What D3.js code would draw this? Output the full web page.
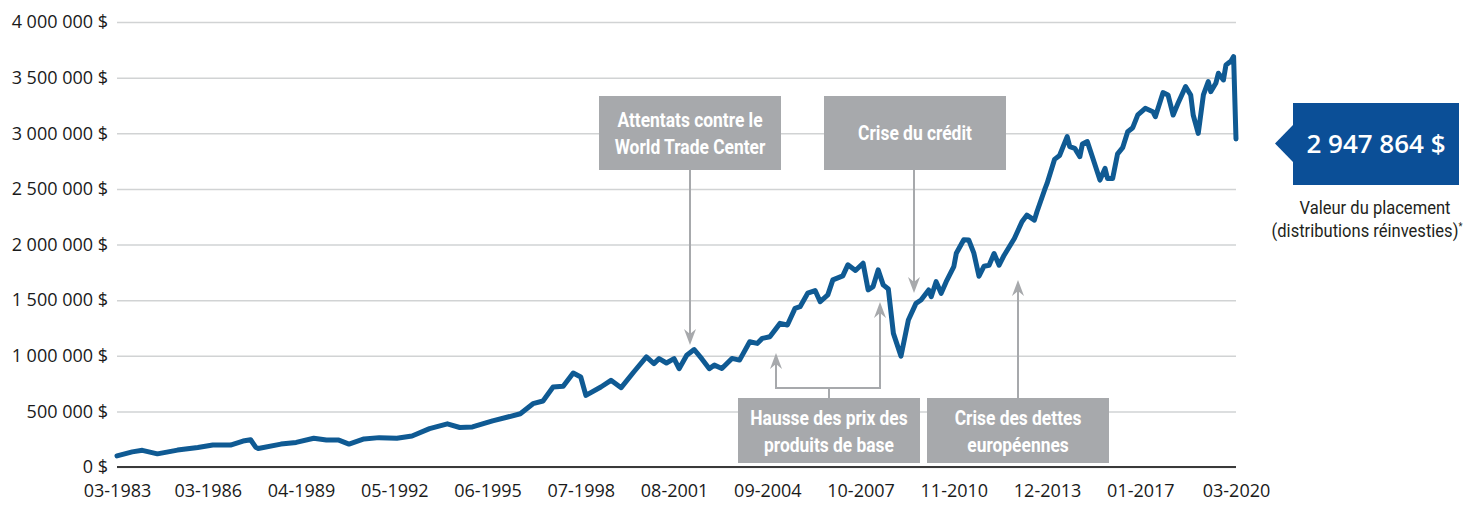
<!DOCTYPE html>
<html>
<head>
<meta charset="utf-8">
<script src="https://cdn.jsdelivr.net/npm/d3@7"></script>
<style>
  body { margin: 0; background: #fff; }
  svg { display: block; font-family: "Open Sans", sans-serif; }
  .cond { font-family: Roboto, sans-serif; }
</style>
</head>
<body>
<div id="chart"></div>
<script>
// Monthly points (investment value, $)
const dates = [
  "1983-03","1983-09","1984-01","1984-07","1985-03","1985-11","1986-05","1986-12","1987-05","1987-08",
  "1987-10","1987-11","1988-08","1989-02","1989-09","1990-02","1990-07","1990-11","1991-05","1991-11",
  "1992-06","1992-12","1993-07","1994-02","1994-07","1994-12","1995-08","1996-02","1996-07","1996-12",
  "1997-04","1997-08","1997-12","1998-04","1998-07","1998-09","1999-03","1999-07","1999-11","2000-04",
  "2000-09","2000-12","2001-02","2001-05","2001-08","2001-10","2002-01","2002-04","2002-07","2002-10",
  "2002-12","2003-03","2003-07","2003-10","2004-02","2004-05","2004-07","2004-10","2005-02","2005-05",
  "2005-08","2005-10","2006-01","2006-04","2006-06","2006-09","2006-11","2007-03","2007-05","2007-08",
  "2007-11","2008-01","2008-03","2008-05","2008-07","2008-09","2008-11","2009-02","2009-05","2009-08",
  "2009-10","2010-01","2010-02","2010-04","2010-06","2010-08","2010-11","2010-12","2011-03","2011-05",
  "2011-07","2011-09","2011-11","2012-01","2012-03","2012-05","2012-07","2012-11","2013-02","2013-04",
  "2013-07","2013-08","2013-11","2013-12","2014-03","2014-05","2014-08","2014-09","2014-11","2015-01",
  "2015-02","2015-04","2015-06","2015-09","2015-11","2015-12","2016-02","2016-04","2016-06","2016-08",
  "2016-10","2016-12","2017-03","2017-06","2017-07","2017-10","2017-12","2018-02","2018-04","2018-07",
  "2018-09","2018-10","2018-12","2019-02","2019-04","2019-05","2019-07","2019-08","2019-10","2019-11",
  "2020-01","2020-02","2020-03"
];
const values = [
  100000,136000,150000,118000,152000,176000,197000,197000,233000,245000,
  178000,167000,206000,221000,258000,242000,242000,206000,252000,264000,
  258000,279000,345000,388000,355000,360000,415000,449000,479000,569000,
  593000,719000,725000,845000,809000,644000,719000,779000,713000,854000,
  989000,929000,974000,935000,974000,884000,1004000,1056000,974000,884000,
  916000,886000,976000,961000,1126000,1111000,1156000,1171000,1291000,1276000,
  1426000,1441000,1562000,1586000,1486000,1547000,1682000,1718000,1817000,1766000,
  1832000,1592000,1622000,1772000,1637000,1600000,1201000,997000,1321000,1471000,
  1501000,1591000,1531000,1666000,1561000,1666000,1801000,1921000,2043000,2040000,
  1922000,1715000,1805000,1814000,1919000,1814000,1904000,2054000,2204000,2264000,
  2219000,2294000,2490000,2549000,2765000,2800000,2970000,2879000,2864000,2789000,
  2903000,2925000,2789000,2579000,2684000,2594000,2594000,2815000,2870000,3014000,
  3050000,3165000,3224000,3194000,3149000,3365000,3344000,3164000,3269000,3419000,
  3344000,3164000,2999000,3344000,3464000,3374000,3449000,3539000,3479000,3614000,
  3650000,3689000,2947864
];
const xTickLabels = ["03-1983","03-1986","04-1989","05-1992","06-1995","07-1998","08-2001",
  "09-2004","10-2007","11-2010","12-2013","01-2017","03-2020"];
const yTicks = [0, 500000, 1000000, 1500000, 2000000, 2500000, 3000000, 3500000, 4000000];
const finalValue = 2947864;
const valueCaption = ["Valeur du placement", "(distributions réinvesties)"];

const W = 1471, H = 508;
const plotLeft = 117, plotRight = 1236, plotTop = 22, plotBottom = 467;

const parseMonth = d3.timeParse("%Y-%m");
const parseTick = d3.timeParse("%m-%Y");
const series = dates.map((d, i) => ({ date: parseMonth(d), value: values[i] }));

const fr = d3.formatLocale({ decimal: ",", thousands: "\u00a0", grouping: [3], currency: ["", "\u00a0$"] });
const money = fr.format("$,.0f");

const svg = d3.select("#chart").append("svg").attr("width", W).attr("height", H);

const x = d3.scaleTime().domain([parseMonth("1983-03"), parseMonth("2020-03")]).range([plotLeft, plotRight]);
const y = d3.scaleLinear().domain([0, 4000000]).range([plotBottom, plotTop]);

// gridlines + y labels
const yAxis = svg.append("g")
  .attr("transform", `translate(${plotLeft},0)`)
  .call(d3.axisLeft(y).tickValues(yTicks).tickFormat(money).tickSize(-(plotRight - plotLeft)).tickPadding(9));
yAxis.select(".domain").remove();
yAxis.selectAll(".tick line").attr("stroke", "#d1d3d4").attr("stroke-width", 1.5);
yAxis.selectAll(".tick text").attr("fill", "#1a1a1a").style("font-size", "18px")
  .style("font-family", '"Open Sans", sans-serif');

// x labels
const xAxis = svg.append("g")
  .attr("transform", `translate(0,${plotBottom})`)
  .call(d3.axisBottom(x).tickValues(xTickLabels.map(parseTick)).tickFormat(d3.timeFormat("%m-%Y")).tickSize(0).tickPadding(17));
xAxis.select(".domain").remove();
xAxis.selectAll(".tick text").attr("fill", "#1a1a1a").style("font-size", "18px")
  .style("font-family", '"Open Sans", sans-serif');

// baseline
svg.append("line").attr("x1", plotLeft).attr("x2", plotRight).attr("y1", y(0)).attr("y2", y(0))
  .attr("stroke", "#3a3a3a").attr("stroke-width", 2);

// annotations (layout in px)
const grey = "#a7a9ac";
const ann = svg.append("g");
function arrowHead(xp, tip, dir) {
  // dir = 1 points down, -1 points up
  const l = 16 * dir, n = 11 * dir;
  return `M${xp},${tip} L${xp - 6},${tip - l} L${xp},${tip - n} L${xp + 6},${tip - l} Z`;
}
function vArrow(xp, from, tip) {
  const dir = tip > from ? 1 : -1;
  ann.append("line").attr("x1", xp).attr("x2", xp).attr("y1", from).attr("y2", tip - 11 * dir)
    .attr("stroke", grey).attr("stroke-width", 2);
  ann.append("path").attr("d", arrowHead(xp, tip, dir)).attr("fill", grey);
}
vArrow(690, 170, 345);
vArrow(914, 170, 293);
vArrow(1018, 398, 280);
ann.append("path").attr("d", "M776,388 L880,388 M829,388 L829,398").attr("stroke", grey)
  .attr("stroke-width", 2).attr("fill", "none");
vArrow(776, 389, 353);
vArrow(880, 389, 302);

// narrow text: Roboto squeezed horizontally to mimic a condensed face
function condText(g, cx, cy, str, size, weight, fill, sx) {
  return g.append("text").attr("class", "cond")
    .attr("transform", `translate(${cx},${cy}) scale(${sx},1)`)
    .attr("text-anchor", "middle").attr("fill", fill).attr("font-weight", weight)
    .style("font-size", size + "px").text(str);
}

const boxes = [
  { x0: 599, y0: 96, w: 182, h: 74, lines: ["Attentats contre le", "World Trade Center"], base: 127 },
  { x0: 824, y0: 96, w: 182, h: 74, lines: ["Crise du crédit"], base: 140 },
  { x0: 738, y0: 398, w: 182, h: 65, lines: ["Hausse des prix des", "produits de base"], base: 425 },
  { x0: 927, y0: 398, w: 182, h: 65, lines: ["Crise des dettes", "européennes"], base: 425 }
];
boxes.forEach(b => {
  ann.append("rect").attr("x", b.x0).attr("y", b.y0).attr("width", b.w).attr("height", b.h).attr("fill", grey);
  b.lines.forEach((t, i) => condText(ann, b.x0 + b.w / 2, b.base + i * 27, t, 20, "bold", "#fff", 0.87));
});

// the line
svg.append("path").datum(series)
  .attr("fill", "none").attr("stroke", "#0f5a93").attr("stroke-width", 5)
  .attr("stroke-linejoin", "round").attr("stroke-linecap", "round")
  .attr("d", d3.line().x(d => x(d.date)).y(d => y(d.value)));

// end value callout
const blue = "#0b4f97";
const cb = svg.append("g");
cb.append("rect").attr("x", 1293).attr("y", 103).attr("width", 166).attr("height", 82).attr("fill", blue);
cb.append("path").attr("d", "M1293,125 L1275,143.5 L1293,162 Z").attr("fill", blue);
cb.append("text").attr("x", 1376).attr("y", 153).attr("text-anchor", "middle").attr("fill", "#fff")
  .attr("font-weight", 600).style("font-size", "26px").text(money(finalValue));
condText(cb, 1375, 214, valueCaption[0], 18, "normal", "#231f20", 0.92);
const c2 = condText(cb, 1367, 237, valueCaption[1], 18, "normal", "#231f20", 0.92);
c2.append("tspan").attr("dy", -7).style("font-size", "10px").text("*");
</script>
</body>
</html>
